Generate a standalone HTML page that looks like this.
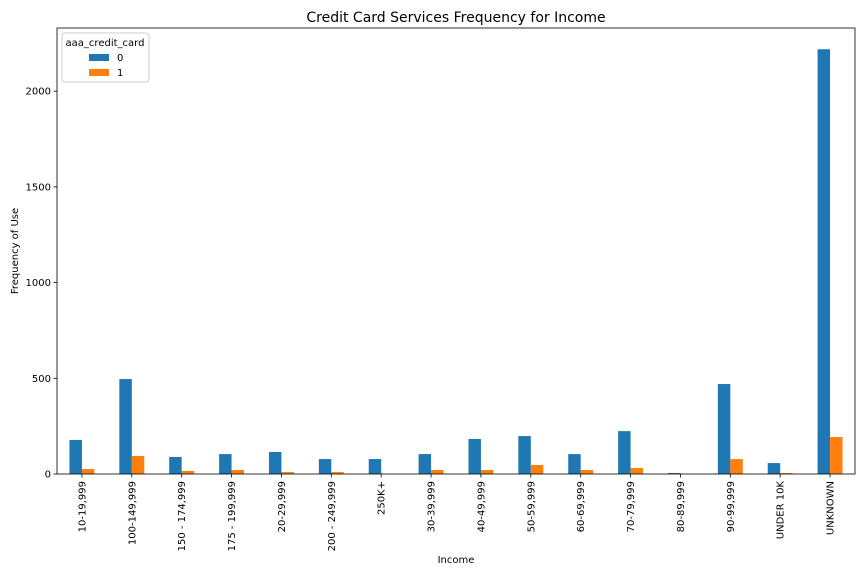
<!DOCTYPE html>
<html><head><meta charset="utf-8"><style>
body{margin:0;background:#fff}
svg text{font-family:"DejaVu Sans","Liberation Sans",sans-serif;fill:#000}
</style></head><body>
<svg id="chart" width="864" height="576" xmlns="http://www.w3.org/2000/svg">
<rect width="864" height="576" fill="#fff"/>
<text x="456" y="22" font-size="14" text-anchor="middle">Credit Card Services Frequency for Income</text>
<g id="bars"></g>
<g id="axes"></g>
<text x="456" y="563" font-size="10" text-anchor="middle">Income</text>
<text transform="translate(18,251) rotate(-90)" font-size="10" text-anchor="middle">Frequency of Use</text>
<g>
<rect x="62" y="33" width="87" height="49" rx="3" fill="#fff" stroke="#ccc"/>
<text x="105" y="46" font-size="10" text-anchor="middle">aaa_credit_card</text>
<rect x="89" y="54" width="20" height="7" fill="#1f77b4"/>
<text x="117" y="61" font-size="10">0</text>
<rect x="89" y="69" width="20" height="7" fill="#ff7f0e"/>
<text x="117" y="76" font-size="10">1</text>
</g>
</svg>
<script>
const categories=["10-19,999","100-149,999","150 - 174,999","175 - 199,999","20-29,999","200 - 249,999","250K+","30-39,999","40-49,999","50-59,999","60-69,999","70-79,999","80-89,999","90-99,999","UNDER 10K","UNKNOWN"];
const series0=[178,496,89,104,115,78,78,104,183,198,104,224,5,470,57,2219];
const series1=[26,94,16,21,10,10,0,21,21,47,21,31,0,78,5,193];
const yTicks=[0,500,1000,1500,2000];
const L=57,R=855,T=28,B=474,yMax=2330;
const NS="http://www.w3.org/2000/svg";
const slot=(R-L)/categories.length,bw=slot*0.25;
const x=i=>L+slot*(i+0.5);
const y=v=>B-v*(B-T)/yMax;
function mk(tag,attrs,parent){const e=document.createElementNS(NS,tag);for(const k in attrs)e.setAttribute(k,attrs[k]);parent.appendChild(e);return e;}
const bars=document.getElementById('bars'),axes=document.getElementById('axes');
categories.forEach((c,i)=>{
  const b0=mk('rect',{x:x(i)-bw,y:y(series0[i]),width:bw,height:B-y(series0[i]),fill:'#1f77b4'},bars);
  
  
  const b1=mk('rect',{x:x(i),y:y(series1[i]),width:bw,height:B-y(series1[i]),fill:'#ff7f0e'},bars);
  
  
  mk('line',{x1:x(i),x2:x(i),y1:B,y2:B+3.5,stroke:'#000','stroke-width':0.8},axes);
  const t=mk('text',{transform:`translate(${x(i)+3.5},${B+7}) rotate(-90)`,'font-size':10,'text-anchor':'end'},axes);
  
  
  t.textContent=c;
});
yTicks.forEach(v=>{
  mk('line',{x1:L-3.5,x2:L,y1:y(v),y2:y(v),stroke:'#000','stroke-width':0.8},axes);
  const t=mk('text',{x:L-6,y:y(v)+3.5,'font-size':10,'text-anchor':'end'},axes);
  
  
  t.textContent=v;
});
const f=mk('rect',{x:L,y:T,width:R-L,height:B-T,fill:'none',stroke:'#000','stroke-width':0.8},axes);


</script>
</body></html>
